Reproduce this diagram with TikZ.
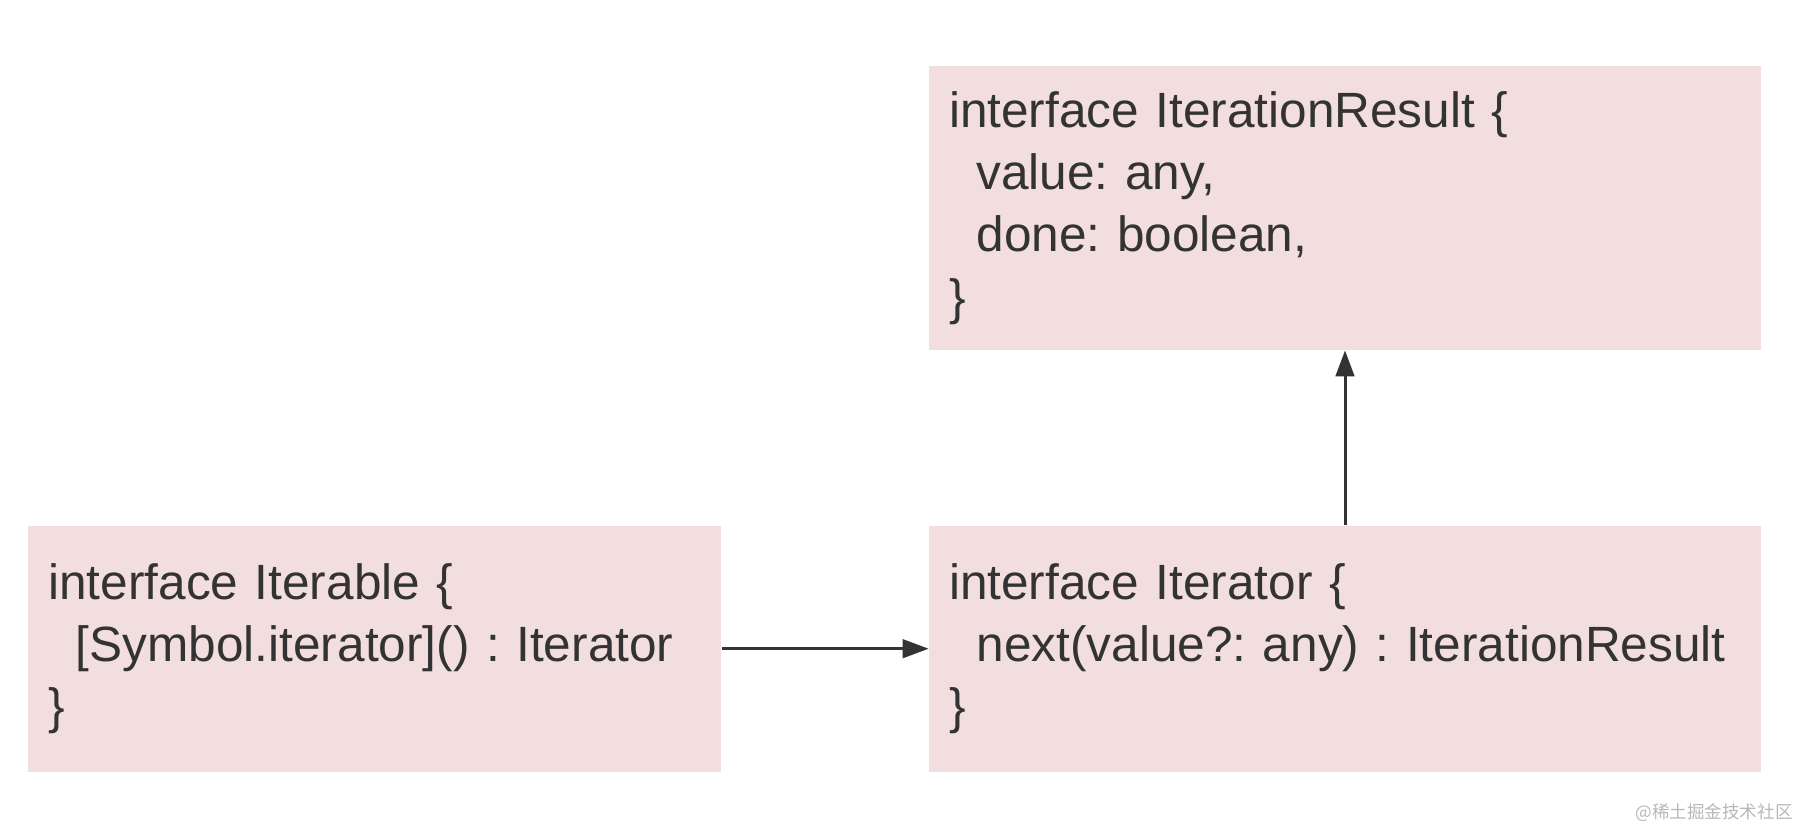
\documentclass[tikz,border=0pt]{standalone}
\usepackage{fontspec}
\setmainfont{Liberation Sans}
\newfontfamily\cjk{Noto Sans CJK SC}
\usepackage{xcolor}
\usetikzlibrary{arrows.meta, positioning}

\definecolor{boxfill}{HTML}{F2DEDE}
\definecolor{ink}{HTML}{333333}
\newcommand{\ind}{\hspace*{0.556em}}
\frenchspacing
\hyphenpenalty=10000

\begin{document}
\begin{tikzpicture}[
    node distance=3.5cm and 4.14cm,
    every node/.style={font=\fontsize{28.2pt}{35.4pt}\selectfont, text=ink},
    iface/.style={rectangle, fill=boxfill, align=left, inner xsep=0.4cm, inner ysep=0pt},
    wide/.style={iface, text width=15.84cm},
    arr/.style={-{Triangle[length=0.52cm, width=0.37cm]}, line width=0.06cm, draw=ink}
]
\useasboundingbox (0,0) rectangle (36.04,-16.6);

% Top: result type
\node[wide, minimum height=5.68cm] (result) at (26.9,-4.16) {interface IterationResult \{\\
\ind value: any,\\
\ind done: boolean,\\
\}};

% Bottom row: Iterable -> Iterator
\node[wide, minimum height=4.92cm, below=of result] (iterator) {interface Iterator \{\\
\ind next(value?: any) : IterationResult\\
\}};
\node[iface, text width=13.06cm, minimum height=4.92cm, left=of iterator] (iterable) {interface Iterable \{\\
\ind [Symbol.iterator]() : Iterator\\
\}};

% Arrows
\draw[arr] (iterable) -- (iterator);
\draw[arr] (iterator) -- (result);

% watermark
\node[font=\cjk\fontsize{10pt}{12pt}\selectfont, text=black!28, anchor=east, inner sep=0pt] (mark) at (35.86,-16.26) {@稀土掘金技术社区};

\end{tikzpicture}
\end{document}
